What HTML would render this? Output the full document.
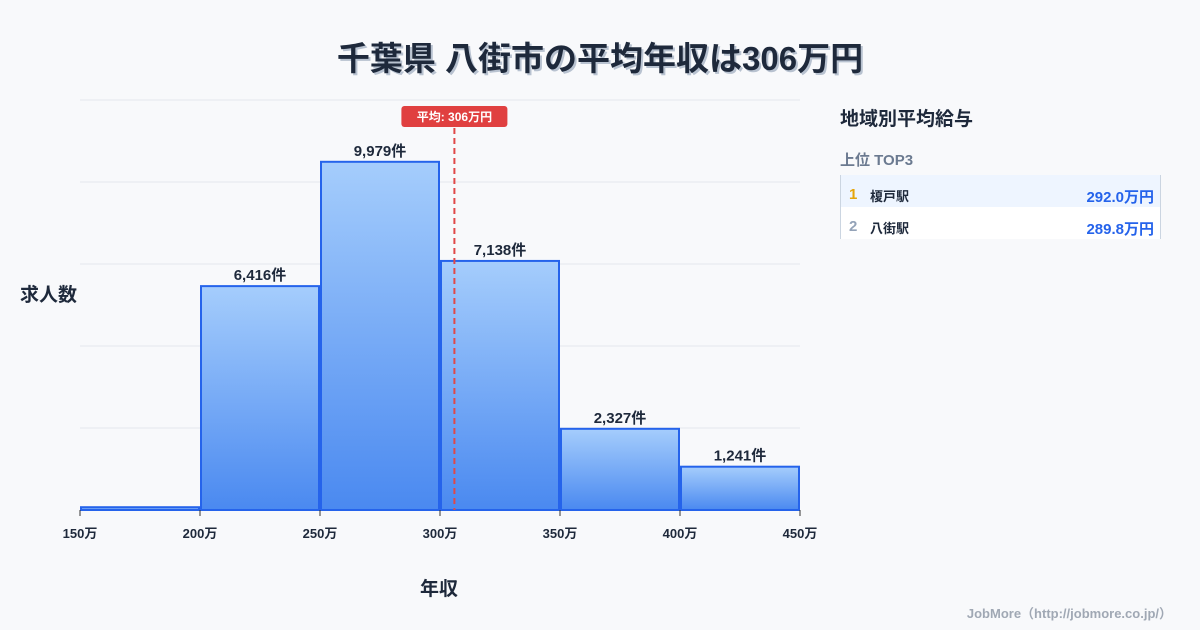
<!DOCTYPE html>
<html><head><meta charset="utf-8"><style>
body{margin:0;width:1200px;height:630px;background:#f8f9fb;font-family:"Liberation Sans","Noto Sans CJK JP",sans-serif;overflow:hidden;position:relative}
.t{position:absolute;white-space:nowrap}
</style></head><body>
<div class="t" style="left:0;width:1200px;top:32px;text-align:center;font-size:33px;font-weight:bold;color:#1e293b;text-shadow:2px 2px 0 #b8c2d0">千葉県 八街市の平均年収は306万円</div>
<svg id="c" width="1200" height="630" style="position:absolute;left:0;top:0">
<defs><linearGradient id="g" x1="0" y1="0" x2="0" y2="1"><stop offset="0" stop-color="#a5cdfc"/><stop offset="1" stop-color="#4a89f0"/></linearGradient></defs>
</svg>
<div class="t" style="left:20px;top:280px;font-size:19px;font-weight:bold;color:#1e293b">求人数</div>
<div class="t" style="left:420px;top:574px;font-size:19px;font-weight:bold;color:#1e293b">年収</div>
<div class="t" style="left:840px;top:104px;font-size:19px;font-weight:bold;color:#1e293b">地域別平均給与</div>
<div class="t" style="left:840px;top:149px;font-size:15px;font-weight:bold;color:#6b7a90">上位 TOP3</div>
<div style="position:absolute;left:840px;top:175px;width:319px;height:64px;border-left:1px solid #cbd5e1;border-right:1px solid #cbd5e1;background:#fff">
<div style="position:relative;height:32px;background:#eef5ff">
<span class="t" style="left:8px;top:11px;font-size:15px;font-weight:bold;color:#e5a50a">1</span>
<span class="t" style="left:29px;top:11px;font-size:13px;font-weight:bold;color:#1e293b">榎戸駅</span>
<span class="t" style="right:6px;top:11px;font-size:15px;font-weight:bold;color:#2563eb">292.0万円</span></div>
<div style="position:relative;height:32px">
<span class="t" style="left:8px;top:11px;font-size:15px;font-weight:bold;color:#94a3b8">2</span>
<span class="t" style="left:29px;top:11px;font-size:13px;font-weight:bold;color:#1e293b">八街駅</span>
<span class="t" style="right:6px;top:11px;font-size:15px;font-weight:bold;color:#2563eb">289.8万円</span></div>
</div>
<div class="t" style="right:28px;top:603px;font-size:13px;font-weight:bold;color:#a0a8b4">JobMore（http://jobmore.co.jp/）</div>
<script>
const binStarts=[150,200,250,300,350,400];
const counts=[80,6416,9979,7138,2327,1241];
const countLabels=["","6,416件","9,979件","7,138件","2,327件","1,241件"];
const xTicks=[150,200,250,300,350,400,450];
const meanValue=306;
const yMax=11750;
const svg=document.getElementById('c');const NS='http://www.w3.org/2000/svg';
const x0=80,x1=800,yb=510,yt=100;
const X=v=>x0+(v-150)/(450-150)*(x1-x0);
const Y=v=>yb-v/yMax*(yb-yt);
function el(t,a){const e=document.createElementNS(NS,t);for(const k in a)e.setAttribute(k,a[k]);svg.appendChild(e);return e;}
for(let i=0;i<=5;i++){const g=el('line',{x1:x0,x2:x1,y1:yt+i*82,y2:yt+i*82,stroke:'#e5e8ec','stroke-width':1});

}
binStarts.forEach((b,i)=>{const xa=X(b)+1,xb=X(b+50)-1,y=Y(counts[i]);
const r=el('rect',{x:xa,y:y,width:xb-xa,height:yb-y,fill:'url(#g)',stroke:'#2563eb','stroke-width':2});


if(countLabels[i]){const t=el('text',{x:(xa+xb)/2,y:y-6,'text-anchor':'middle','font-size':15,'font-weight':'bold',fill:'#1e293b'});t.textContent=countLabels[i];

}});
xTicks.forEach(v=>{const l=el('line',{x1:X(v),x2:X(v),y1:yb,y2:yb+6,stroke:'#333','stroke-width':1});


const t=el('text',{x:X(v),y:yb+28,'text-anchor':'middle','font-size':13,'font-weight':'bold',fill:'#1e293b'});t.textContent=v+'万';

});
const mx=X(meanValue);
const ml=el('line',{x1:mx,x2:mx,y1:128,y2:yb,stroke:'#e04848','stroke-width':2,'stroke-dasharray':'6,4'});


const mb=el('rect',{x:mx-53,y:106,width:106,height:21,rx:3,fill:'#e04040'});


const mt=el('text',{x:mx,y:121,'text-anchor':'middle','font-size':12,'font-weight':'bold',fill:'#fff'});mt.textContent='平均: '+meanValue+'万円';


</script>
</body></html>
